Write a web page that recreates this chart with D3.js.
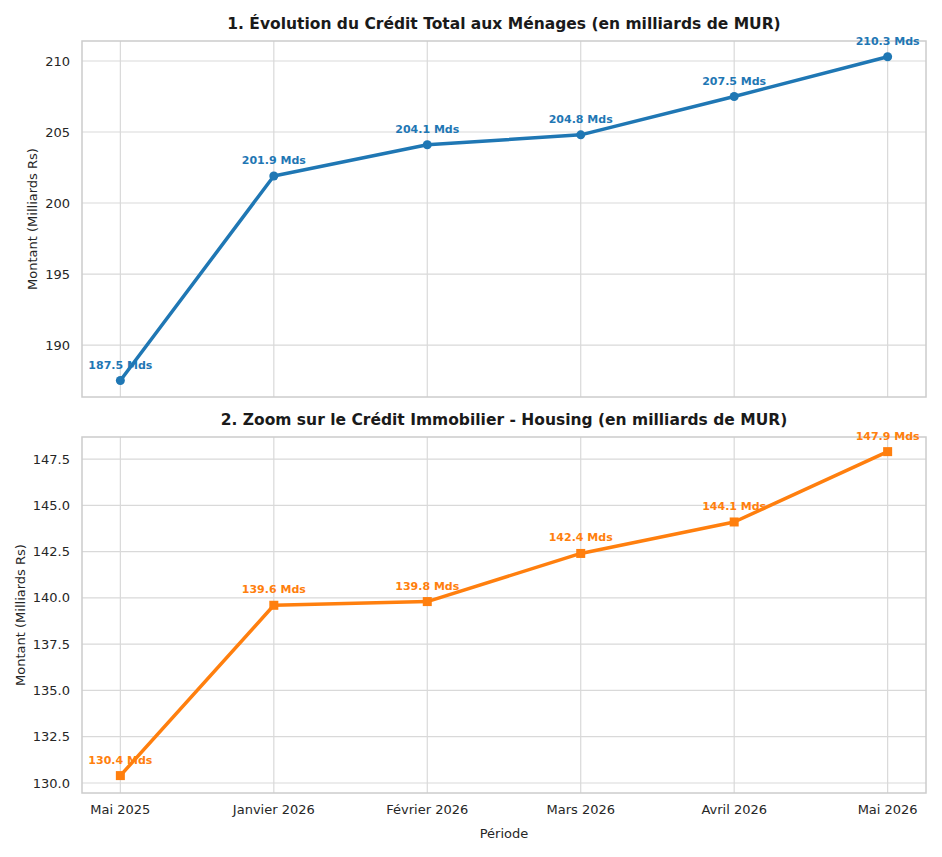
<!DOCTYPE html>
<html>
<head>
<meta charset="utf-8">
<script src="https://cdn.jsdelivr.net/npm/d3@7"></script>
<style>
  body { margin: 0; background: #fff; }
  svg { font-family: "DejaVu Sans", sans-serif; }
</style>
</head>
<body>
<svg width="942" height="857"></svg>
<script>
const periods = ["Mai 2025", "Janvier 2026", "Février 2026", "Mars 2026", "Avril 2026", "Mai 2026"];
const totalCredit = [187.5, 201.9, 204.1, 204.8, 207.5, 210.3];
const housingCredit = [130.4, 139.6, 139.8, 142.4, 144.1, 147.9];
const totalTicks = [190, 195, 200, 205, 210];
const housingTicks = [130.0, 132.5, 135.0, 137.5, 140.0, 142.5, 145.0, 147.5];

const svg = d3.select("svg");
const left = 82, right = 926;

const x = d3.scalePoint()
  .domain(periods)
  .range([left, right])
  .padding(0.25);

function panel(cfg) {
  const y = d3.scaleLinear().domain(cfg.domain).range([cfg.bottom, cfg.top]);
  const g = svg.append("g");

  // grid
  g.selectAll(".gy").data(cfg.ticks).join("line")
    .attr("x1", left).attr("x2", right)
    .attr("y1", d => y(d)).attr("y2", d => y(d))
    .attr("stroke", "#d9d9d9").attr("stroke-width", 1.2);
  g.selectAll(".gx").data(periods).join("line")
    .attr("x1", d => x(d)).attr("x2", d => x(d))
    .attr("y1", cfg.top).attr("y2", cfg.bottom)
    .attr("stroke", "#d9d9d9").attr("stroke-width", 1.2);

  g.append("rect")
    .attr("x", left).attr("y", cfg.top)
    .attr("width", right - left).attr("height", cfg.bottom - cfg.top)
    .attr("fill", "none").attr("stroke", "#cccccc").attr("stroke-width", 1.5);

  // y tick labels
  g.selectAll(".yt").data(cfg.ticks).join("text")
    .attr("x", 70).attr("y", d => y(d)).attr("dy", "0.35em")
    .attr("text-anchor", "end").attr("font-size", 13).attr("fill", "#262626")
    .text(cfg.tickFmt);

  g.append("text")
    .attr("transform", `translate(${cfg.labelX},${(cfg.top + cfg.bottom) / 2}) rotate(-90)`)
    .attr("text-anchor", "middle").attr("font-size", 13).attr("fill", "#262626")
    .text("Montant (Milliards Rs)");

  g.append("text")
    .attr("x", (left + right) / 2).attr("y", cfg.top - 12)
    .attr("text-anchor", "middle").attr("font-size", 15.5).attr("font-weight", "bold")
    .attr("fill", "#1a1a1a").text(cfg.title);

  const line = d3.line().x((d, i) => x(periods[i])).y(d => y(d));
  g.append("path").datum(cfg.values)
    .attr("d", line).attr("fill", "none")
    .attr("stroke", cfg.color).attr("stroke-width", 3.5)
    .attr("stroke-linejoin", "round");

  if (cfg.marker === "circle") {
    g.selectAll(".pt").data(cfg.values).join("circle")
      .attr("cx", (d, i) => x(periods[i])).attr("cy", d => y(d))
      .attr("r", 4.5).attr("fill", cfg.color);
  } else {
    g.selectAll(".pt").data(cfg.values).join("rect")
      .attr("x", (d, i) => x(periods[i]) - 4.5).attr("y", d => y(d) - 4.5)
      .attr("width", 9).attr("height", 9).attr("fill", cfg.color);
  }

  g.selectAll(".lbl").data(cfg.values).join("text")
    .attr("x", (d, i) => x(periods[i])).attr("y", d => y(d) - 12)
    .attr("text-anchor", "middle").attr("font-size", 11).attr("font-weight", "bold")
    .attr("fill", cfg.color)
    .text(d => `${d.toFixed(1)} Mds`);

  return g;
}

panel({
  top: 41, bottom: 397, domain: [186.34, 211.41], ticks: totalTicks,
  tickFmt: d => d3.format("d")(d), labelX: 37, values: totalCredit,
  color: "#1f77b4", marker: "circle",
  title: "1. Évolution du Crédit Total aux Ménages (en milliards de MUR)"
});

panel({
  top: 437, bottom: 793, domain: [129.46, 148.69], ticks: housingTicks,
  tickFmt: d => d3.format(".1f")(d), labelX: 25, values: housingCredit,
  color: "#ff7f0e", marker: "square",
  title: "2. Zoom sur le Crédit Immobilier - Housing (en milliards de MUR)"
});

// x tick labels
svg.append("g").selectAll("text").data(periods).join("text")
  .attr("x", d => x(d)).attr("y", 814)
  .attr("text-anchor", "middle").attr("font-size", 13).attr("fill", "#262626")
  .text(d => d);

svg.append("text")
  .attr("x", (left + right) / 2).attr("y", 838)
  .attr("text-anchor", "middle").attr("font-size", 13).attr("fill", "#262626")
  .text("Période");
</script>
</body>
</html>
